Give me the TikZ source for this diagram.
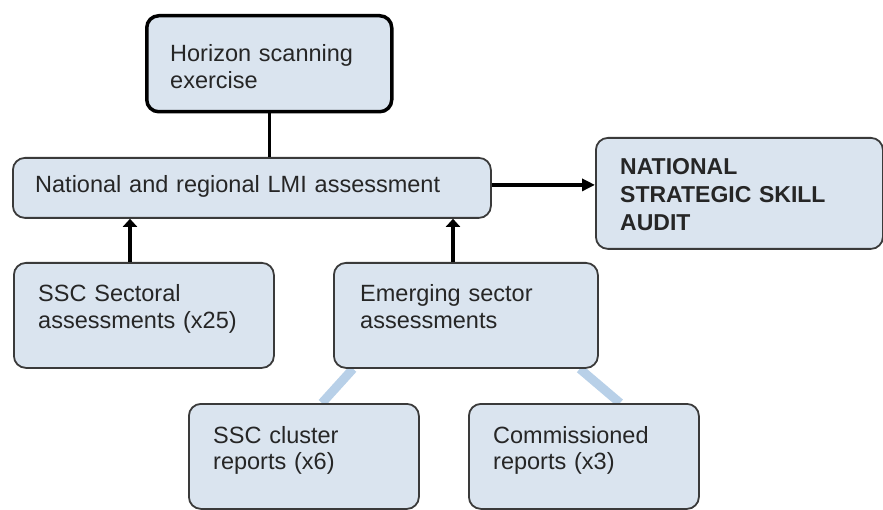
\documentclass[tikz,border=0pt]{standalone}
\usepackage{fontspec}
\setmainfont{Liberation Sans}
\usetikzlibrary{arrows.meta,calc,backgrounds}
\definecolor{boxfill}{HTML}{DAE4EF}
\definecolor{boxline}{HTML}{3A3A3A}
\definecolor{lightlink}{HTML}{B8D0E8}
\definecolor{txtcol}{HTML}{262626}
\begin{document}
\begin{tikzpicture}[x=1pt,y=-1pt,
  box/.style={draw=boxline, line width=1.8pt, fill=boxfill, rounded corners=12pt,
    inner sep=0pt, anchor=north west},
  txt/.style={anchor=base west, inner sep=0pt, align=left, text width=460pt,
    text=txtcol, font=\fontsize{23.5}{26.5}\selectfont},
  link/.style={line width=3.5pt, black},
  uparrow/.style={line width=4pt, black, -{Triangle[length=8pt,width=14pt]}},
  rarrow/.style={line width=4pt, black, -{Triangle[length=13pt,width=12pt]}},
  soft/.style={lightlink, line width=9pt}]
\useasboundingbox (0,0) rectangle (883,510);

% boxes
\node[box, line width=3.5pt, draw=black, minimum width=245pt, minimum height=96pt] (hz) at (145,14) {};
\node[box, minimum width=478pt, minimum height=60pt] (lmi) at (12,157) {};
\node[box, minimum width=287pt, minimum height=111pt] (nsa) at (595,137) {};
\node[box, minimum width=260pt, minimum height=105pt] (ssc) at (13,262) {};
\node[box, minimum width=264pt, minimum height=105pt] (em) at (333,262) {};
\node[box, minimum width=230pt, minimum height=105pt] (cl) at (188,403) {};
\node[box, minimum width=230pt, minimum height=105pt] (cm) at (468,403) {};

% texts
\node[txt] (thz) at ($(hz.north west)+(25,48)$) {Horizon scanning\\exercise};
\node[txt] (tlmi) at ($(lmi.north west)+(23,36)$) {National and regional LMI assessment};
\node[txt, font=\fontsize{23}{28}\bfseries] (tnsa) at ($(nsa.north west)+(25,38)$) {NATIONAL\\STRATEGIC SKILL\\AUDIT};
\node[txt] (tssc) at ($(ssc.north west)+(25,40)$) {SSC Sectoral\\assessments (x25)};
\node[txt] (tem) at ($(em.north west)+(27,40)$) {Emerging sector\\assessments};
\node[txt] (tcl) at ($(cl.north west)+(25,40)$) {SSC cluster\\reports (x6)};
\node[txt] (tcm) at ($(cm.north west)+(25,40)$) {Commissioned\\reports (x3)};

% connectors
\draw[link] (hz.south) -- (hz.south |- lmi.north);
\draw[rarrow] ($(lmi.east)+(0,-3)$) -- ($(lmi.east -| nsa.west)+(0,-3)$);
\coordinate (sscup) at ($(ssc.north west)+(117,0)$);
\draw[uparrow] (sscup) -- (sscup |- lmi.south);
\coordinate (emup) at ($(em.north west)+(120,0)$);
\draw[uparrow] (emup) -- (emup |- lmi.south);

\begin{scope}[on background layer]
\fill[white] (0,0) rectangle (883,510);
\coordinate (emL) at ($(em.south west)+(20,0)$);
\coordinate (clT) at ($(cl.north west)+(134,0)$);
\coordinate (emR) at ($(em.south east)+(-19,0)$);
\coordinate (cmT) at ($(cm.north west)+(152,0)$);
\draw[soft] (emL) -- (clT);
\draw[soft] (emR) -- (cmT);
\end{scope}
\end{tikzpicture}
\end{document}
